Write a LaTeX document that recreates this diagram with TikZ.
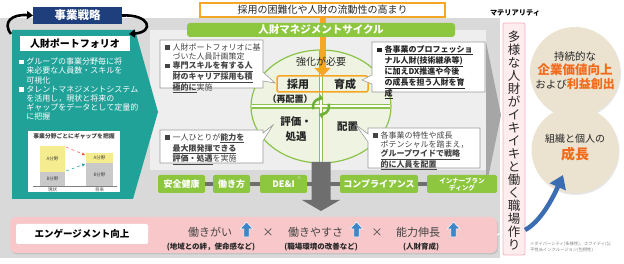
\documentclass[tikz,border=0pt]{standalone}
\usepackage{fontspec}
\setmainfont{Noto Sans CJK JP}
\usetikzlibrary{arrows.meta,shapes.geometric,shadows,calc}
\definecolor{navy}{HTML}{1F3E7C}
\definecolor{tealC}{HTML}{21A298}
\definecolor{orangeC}{HTML}{F5A623}
\definecolor{greenC}{HTML}{8DC63F}
\definecolor{circfill}{HTML}{EEF4E1}
\definecolor{circline}{HTML}{8BC34A}
\definecolor{greenArr}{HTML}{6FAE3A}
\definecolor{orangeT}{HTML}{F26B1D}
\definecolor{beige}{HTML}{EBE2CF}
\definecolor{pinkbar}{HTML}{F7C7CA}
\definecolor{pinkfill}{HTML}{FDEDEF}
\definecolor{pinkline}{HTML}{F2B3BC}
\definecolor{blueA}{HTML}{3B6DB3}
\definecolor{blueU}{HTML}{3D86C8}
\definecolor{bggray}{HTML}{D9D9D9}
\definecolor{bglight}{HTML}{EEEEEE}
\definecolor{chevC}{HTML}{A6A6A6}
\definecolor{darkarrow}{HTML}{6E6E6E}
\definecolor{txt}{HTML}{262626}
\definecolor{subtxt}{HTML}{444444}
\definecolor{bubline}{HTML}{9A9A9A}
\definecolor{yel}{HTML}{F4EC8E}
\definecolor{bgr}{HTML}{C9C9C9}
\newcommand{\myfs}[2]{\fontsize{#1}{#2}\selectfont}
\newcommand{\sqb}{\makebox[7.5pt][l]{\rule[0.4pt]{4.5pt}{4.5pt}}}
\newcommand{\ind}{\hspace*{7.5pt}}
\newcommand{\ubf}[1]{\underline{\textbf{#1}}}
\newcommand{\upblock}[2]{\fill[blueU, draw=white, line width=0.5pt] (#1,#2-8) -- (#1+6.5,#2-1) -- (#1+2.6,#2-1) -- (#1+2.6,#2+7) -- (#1-2.6,#2+7) -- (#1-2.6,#2-1) -- (#1-6.5,#2-1) -- cycle;}
\begin{document}
\begin{tikzpicture}[x=1pt,y=-1pt,
  every node/.style={inner sep=0pt, outer sep=0pt, text=txt},
  bubble/.style={draw=bubline, fill=white, line width=0.6pt},
  bubtext/.style={anchor=north west, align=left, font=\myfs{8}{9.3}, text=subtxt},
  tag/.style={fill=greenC, rounded corners=2pt, minimum height=18pt, text=white, font=\myfs{9}{10}\bfseries},
  chartlbl/.style={font=\myfs{4.5}{5}, text=subtxt},
  bignum/.style={font=\myfs{11}{12}, text=subtxt},
  sublbl/.style={font=\myfs{7.5}{8}\bfseries, text=txt},
  circtxt/.style={font=\myfs{10.5}{11}\bfseries, text=txt}]
\useasboundingbox (0,0) rectangle (624,264);

% backgrounds
\fill[bggray] (0,18) rectangle (500,258);
\fill[bglight] (150,30) rectangle (486,170);
\fill[chevC] (486,42) -- (501,115) -- (486,188) -- cycle;

% teal portfolio panel
\fill[tealC] (12,30) -- (135,30) -- (158,112) -- (133,199) -- (12,199) -- cycle;

% strategy
\node[fill=navy, minimum width=89pt, minimum height=17pt, text=white, font=\myfs{11.5}{12}\bfseries] (strat) at (77.5,15.5) {事業戦略};
\draw[line width=2.6pt, -{Triangle[length=6pt,width=8pt]}] (11,34) .. controls (2,22) and (12,14) .. (strat.west);
\draw[line width=2.6pt, -{Triangle[length=6pt,width=8pt]}] (strat.east) .. controls (150,14) and (155,32) .. (129,34);

\node[fill=white, minimum width=110pt, minimum height=15pt, font=\myfs{10}{11}\bfseries, text=black] (pflabel) at (75,44) {人財ポートフォリオ};
\node[anchor=north west, align=left, text=white, font=\myfs{8}{9.2}] (pftext) at (19,58) {\sqb グループの事業分野毎に将\\ \ind 来必要な人員数・スキルを\\ \ind 可視化\\ \sqb タレントマネジメントシステム\\ \ind を活用し，現状と将来の\\ \ind ギャップをデータとして定量的\\ \ind に把握};

% chart
\node[fill=white, minimum width=92pt, minimum height=61pt] (chart) at (74,161.5) {};
\node[font=\myfs{5.8}{6}\bfseries, text=subtxt] (charttitle) at (74,136) {事業分野ごとにギャップを把握};
\node[fill=yel, minimum width=25pt, minimum height=26pt, chartlbl] (a1) at (52.5,159) {A分野};
\node[fill=bgr, minimum width=25pt, minimum height=14pt, chartlbl] (b1) at (52.5,179) {B分野};
\node[fill=yel, minimum width=27pt, minimum height=10pt, chartlbl] (a2) at (99.5,158) {A分野};
\node[fill=bgr, minimum width=27pt, minimum height=23pt, chartlbl] (b2) at (99.5,174.5) {B分野};
\draw[gray, line width=0.4pt] (33,186) -- (117,186);
\node[chartlbl] (now) at (52.5,190) {現状};
\node[chartlbl] (fut) at (99.5,190) {将来};
\draw[red!70, dashed, line width=0.5pt, -{Triangle[length=3pt,width=3pt]}] ($(a1.north east)+(1,1)$) -- ($(a2.north west)+(-1,2)$);
\draw[tealC, dashed, line width=0.5pt, -{Triangle[length=3pt,width=3pt]}] ($(b1.north east)+(1,-1)$) -- ($(b2.north west)+(-1,1)$);

% circle
\node[ellipse, draw=circline, line width=1.2pt, fill=circfill, minimum width=140pt, minimum height=113pt] (cyc) at (321,106.5) {};
\begin{scope}
\path[clip] (cyc.center) ellipse [x radius=69.4pt, y radius=55.9pt];
\draw[circline, line width=4.6pt] (cyc.north) -- (cyc.south) (cyc.west) -- (cyc.east);
\draw[white, line width=2pt] (cyc.north) -- (cyc.south) (cyc.west) -- (cyc.east);
\end{scope}
\draw[greenArr, line width=2.5pt, -{Triangle[length=4pt,width=6.5pt]}] ([shift={(200:8pt)}]cyc.center) arc[start angle=200, end angle=75, radius=8pt];
\draw[greenArr, line width=2.5pt, -{Triangle[length=4pt,width=6.5pt]}] ([shift={(20:8pt)}]cyc.center) arc[start angle=20, end angle=-105, radius=8pt];

\node[draw=orangeC, line width=1.5pt, rounded corners=2pt, minimum width=91pt, minimum height=16pt] (recruit) at (322.5,84) {};
\node[circtxt, font=\myfs{11}{12}\bfseries] (tsaiyo) at (298,84) {採用};
\node[circtxt, font=\myfs{11}{12}\bfseries] (tikusei) at (345,84) {育成};
\node[circtxt, font=\myfs{9}{10}\bfseries] (tsaihai) at (290,99) {（再配置）};
\node[circtxt, align=center, font=\myfs{10.5}{15}\bfseries] (thyoka) at (296,129.5) {評価・\\処遇};
\node[circtxt] (thaichi) at (347.5,127) {配置};

% top trend box and arrow
\node[draw=orangeC, line width=1.4pt, fill=white, minimum width=245pt, minimum height=14pt, font=\myfs{10}{11}] (trend) at (322.5,10) {採用の困難化や人財の流動性の高まり};
\draw[orangeC, line width=6pt, -{Triangle[length=8pt,width=16pt]}] (trend.south) -- (trend.south |- recruit.north);
\node[fill=greenC, rounded corners=3pt, minimum width=268pt, minimum height=14pt, text=white, font=\myfs{10.5}{11}\bfseries] (cyctitle) at (321,30) {人財マネジメントサイクル};
\node[font=\myfs{10}{11}, text=txt] (tkyoka) at (321,62) {強化が必要};

% callouts
\draw[bubble] (160,40) -- (263,40) -- (263,72) -- (275,83) -- (263,81) -- (263,88) -- (160,88) -- cycle;
\node[bubtext] (bA) at (165,43.5) {\sqb 人財ポートフォリオに基\\ \ind づいた人員計画策定\\ \sqb \ubf{専門スキルを有する人}\\ \ind \ubf{財のキャリア採用も積}\\ \ind \ubf{極的に}実施};
\draw[bubble] (372,42) -- (485,42) -- (485,92) -- (372,92) -- (372,84) -- (362,80) -- (372,75) -- cycle;
\node[bubtext, text=txt] (bB) at (377,45.5) {\sqb \ubf{各事業のプロフェッショ}\\ \ind \ubf{ナル人財(技術継承等)}\\ \ind \ubf{に加えDX推進や今後}\\ \ind \ubf{の成長を担う人財を育}\\ \ind \ubf{成}};
\draw[bubble] (160,130) -- (263,130) -- (263,133) -- (273,125) -- (263,141) -- (263,163) -- (160,163) -- cycle;
\node[bubtext] (bC) at (165,133.5) {\sqb 一人ひとりが\ubf{能力を}\\ \ind \ubf{最大限発揮できる}\\ \ind \ubf{評価・処遇}を実施};
\draw[bubble] (368,128) -- (480,128) -- (480,168) -- (368,168) -- (368,142) -- (356,125) -- (368,134) -- cycle;
\node[bubtext] (bD) at (373,131.5) {\sqb 各事業の特性や成長\\ \ind ポテンシャルを踏まえ，\\ \ind \ubf{グループワイドで戦略}\\ \ind \ubf{的に人員を配置}};

% tags
\fill[darkarrow] (205,182) rectangle (430,186.5);
\fill[darkarrow] ($(cyc.south)+(-9.5,-1)$) -- ($(cyc.south)+(9.5,-1)$) -- ($(cyc.south)+(9.5,37)$) -- ($(cyc.south)+(19,37)$) -- ($(cyc.south)+(0,48)$) -- ($(cyc.south)+(-19,37)$) -- ($(cyc.south)+(-9.5,37)$) -- cycle;
\node[tag, minimum width=47pt] (tg1) at (181.5,184) {安全健康};
\node[tag, minimum width=37pt] (tg2) at (231.5,184) {働き方};
\node[tag, minimum width=47pt] (tg3) at (283.5,184) {DE\&I};
\node[font=\myfs{4}{4}, text=white] (tg3n) at (299,178) {※};
\node[tag, minimum width=78pt] (tg4) at (379,184) {コンプライアンス};
\node[tag, minimum width=70pt, align=center, font=\myfs{6.5}{7}\bfseries] (tg5) at (462,184) {インナーブラン\\ディング};

% engagement bar
\node[fill=pinkbar, rounded corners=6pt, minimum width=487pt, minimum height=36pt, drop shadow={opacity=0.25, shadow xshift=1pt, shadow yshift=-1.5pt}] (eng) at (253.5,235) {};
\node[fill=white, rounded corners=2pt, minimum width=132pt, minimum height=20pt, font=\myfs{9.5}{10}\bfseries, text=black] (englabel) at (82,234) {エンゲージメント向上};
\node[bignum] (w1) at (210,232) {働きがい};
\upblock{246.5}{230}
\node[bignum] (x1) at (268,233) {×};
\node[bignum] (w2) at (315.5,232) {働きやすさ};
\upblock{356.5}{230}
\node[bignum] (x2) at (377,233) {×};
\node[bignum] (w3) at (418,232) {能力伸長};
\upblock{453.5}{230}
\node[sublbl] (s1) at (211,247) {(地域との絆，使命感など)};
\node[sublbl] (s2) at (321,247) {(職場環境の改善など)};
\node[sublbl] (s3) at (421,247) {(人財育成)};

% materiality column
\node[font=\myfs{7.2}{8}\bfseries, text=black] (mat) at (515,13) {マテリアリティ};
\node[draw=pinkline, fill=pinkfill, line width=0.8pt, rounded corners=2pt, minimum width=22pt, minimum height=232pt] (matbox) at (514,139) {};
\node[align=center, font=\myfs{12.5}{12.95}, text=txt] (mattext) at (514,140.5) {多\\様\\な\\人\\財\\が\\イ\\キ\\イ\\キ\\と\\働\\く\\職\\場\\作\\り};
\draw[white, line width=1pt] (eng.east) -- (matbox.west |- 0,232);

% goal circles
\node[circle, fill=beige, minimum size=90pt, drop shadow={opacity=0.2, shadow xshift=1pt, shadow yshift=-1.5pt}] (value) at (575,72) {};
\node[align=center, font=\myfs{10.5}{14}, text=txt] (valuetext) at (575,71) {持続的な\\{\color{orangeT}\myfs{12.5}{14}\bfseries 企業価値向上}\\および{\color{orangeT}\myfs{12}{14}\bfseries 利益創出}};
\node[circle, fill=beige, minimum size=87pt, drop shadow={opacity=0.2, shadow xshift=1pt, shadow yshift=-1.5pt}] (grow) at (575,150) {};
\node[align=center, font=\myfs{10}{17}, text=txt] (growtext) at (575,148) {組織と個人の\\{\color{orangeT}\myfs{14}{17}\bfseries 成長}};
\draw[blueA, line width=4.5pt, -{Triangle[length=13pt,width=17pt]}] (matbox.east |- 0,230) .. controls (540,222) and (552,200) .. ($(grow.center)+(-12pt,-25pt)$);

\node[anchor=north west, align=left, font=\myfs{4.3}{5.5}, text=gray] (note) at (530,242) {※ダイバーシティ(多様性)、エクイティ(公\\平性)\&インクルージョン(包摂性)};
\end{tikzpicture}
\end{document}
